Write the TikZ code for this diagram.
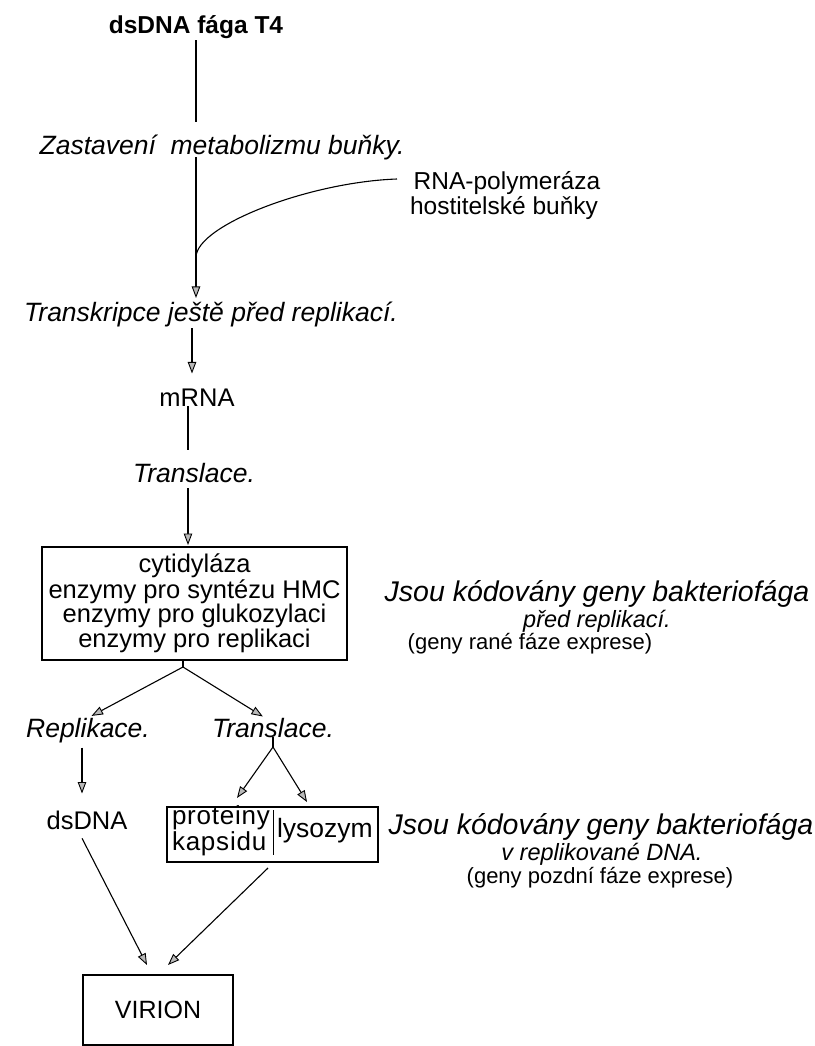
\documentclass[tikz,border=0pt]{standalone}
\usepackage{fontspec}
\setmainfont{Liberation Sans}
\usetikzlibrary{arrows.meta,calc}

\begin{document}
\begin{tikzpicture}[x=1pt,y=-1pt,
  every node/.style={inner sep=0pt, outer sep=0pt},
  txt/.style={font=\fontsize{25.5}{22.7}\selectfont, anchor=base},
  itx/.style={font=\fontsize{26.5}{23}\selectfont\itshape, anchor=base},
  bigit/.style={font=\fontsize{28.5}{23}\selectfont\itshape, anchor=base},
  smit/.style={font=\fontsize{23.5}{21}\selectfont\itshape, anchor=base},
  smtx/.style={font=\fontsize{22}{21}\selectfont, anchor=base},
  spaced/.style={font=\fontsize{26}{24}\selectfont\addfontfeature{LetterSpace=3}, anchor=base west},
  conn/.style={line width=1.1pt},
  arr/.style={conn, -{Triangle[length=11.5pt,width=8.5pt,fill=gray!55,line width=0.9pt]}},
  frame/.style={draw, line width=1.1pt}
]
\useasboundingbox (0,0) rectangle (814,1046);

% main column
\node[txt, font=\fontsize{24.5}{22}\selectfont\bfseries] (title) at (196,34) {dsDNA fága T4};
\node[itx] (zast) at (222,154) {Zastavení\ \ metabolizmu buňky.};
\node[txt, font=\fontsize{24.5}{21}\selectfont] (rnap1) at (507,189) {RNA-polymeráza};
\node[txt, font=\fontsize{24.5}{21}\selectfont] (rnap2) at (504,214) {hostitelské buňky};
\node[itx] (trans) at (211,321) {Transkripce ještě před replikací.};
\node[txt] (mrna) at (197,406) {mRNA};
\node[itx] (transl1) at (194,482) {Translace.};

% early enzymes
\node[frame, minimum width=305pt, minimum height=113pt, align=center,
      font=\fontsize{25.5}{22.7}\selectfont] (box1) at (194.5,603.5)
  {cytidyláza\\enzymy pro syntézu HMC\\enzymy pro glukozylaci\\enzymy pro replikaci};
\node[bigit] (noteA1) at (597,601) {Jsou kódovány geny bakteriofága};
\node[smit] (noteA2) at (597,627) {před replikací.};
\node[smtx] (noteA3) at (530,649) {(geny rané fáze exprese)};

% branches
\node[itx] (repl) at (88,737) {Replikace.};
\node[itx] (transl2) at (273,737) {Translace.};
\node[txt] (dsdna) at (87,829) {dsDNA};

% late proteins
\node[frame, minimum width=211pt, minimum height=55pt] (box2) at (272.5,834.5) {};
\node[spaced] (prot) at (172,824) {proteiny};
\node[spaced] (kaps) at (172,850) {kapsidu};
\node[txt, font=\fontsize{26.5}{24}\selectfont, anchor=base west] (lys) at (277,837) {lysozym};
\node[bigit] (noteB1) at (601,834) {Jsou kódovány geny bakteriofága};
\node[smit] (noteB2) at (602,860) {v replikované DNA.};
\node[smtx] (noteB3) at (600,883) {(geny pozdní fáze exprese)};

\node[frame, minimum width=150pt, minimum height=70pt, font=\fontsize{25}{22}\selectfont] (virion) at (158,1010) {VIRION};

% connectors
\coordinate (J) at (196,257);
\coordinate (rstart) at (397,179);
\coordinate (apex) at (183,667);
\coordinate (tapex) at (273,747);

\draw[conn, shorten <=1pt, shorten >=12pt] (title.south) -- (title.south |- zast.north);
\draw[arr, shorten <=-2pt, shorten >=3.5pt] (title.south |- zast.south) -- (title.south |- trans.north);
\draw[conn] (rstart) .. controls (310,182) and (197,225) .. (J);
\draw[arr, shorten <=1.5pt, shorten >=15pt] ([xshift=-19pt]trans.south) -- ([xshift=-19pt]trans.south |- mrna.north);
\draw[conn, shorten <=0pt, shorten >=13pt] ([xshift=-9pt]mrna.south) -- ([xshift=-9pt]mrna.south |- transl1.north);
\draw[arr, shorten <=6pt, shorten >=2pt] ([xshift=-6pt]transl1.south) -- ([xshift=-6pt]transl1.south |- box1.north);

\draw[conn] ([xshift=-11.5pt]box1.south) -- (apex);
\draw[arr, shorten >=4pt] (apex) -- (repl.north);
\draw[arr, shorten >=2.5pt] (apex) -- ([xshift=-8pt]transl2.north);
\draw[arr, shorten <=5pt, shorten >=17pt] ([xshift=-6pt]repl.south) -- ([xshift=-6pt]repl.south |- dsdna.north);
\draw[conn] (transl2.south) -- (tapex);
\draw[arr] (tapex) -- ([xshift=-35.5pt,yshift=9pt]box2.north);
\draw[arr] (tapex) -- ([xshift=34.5pt,yshift=5pt]box2.north);
\draw[conn, line width=0.9pt] ([xshift=0.5pt,yshift=-3pt]box2.north) -- ([xshift=0.5pt,yshift=7pt]box2.south);

\draw[arr] ([xshift=-5pt,yshift=-9pt]dsdna.south) -- ([xshift=-11pt,yshift=10pt]virion.north);
\draw[arr] ([xshift=-4.5pt,yshift=-6pt]box2.south) -- ([xshift=10pt,yshift=10pt]virion.north);
\end{tikzpicture}
\end{document}
